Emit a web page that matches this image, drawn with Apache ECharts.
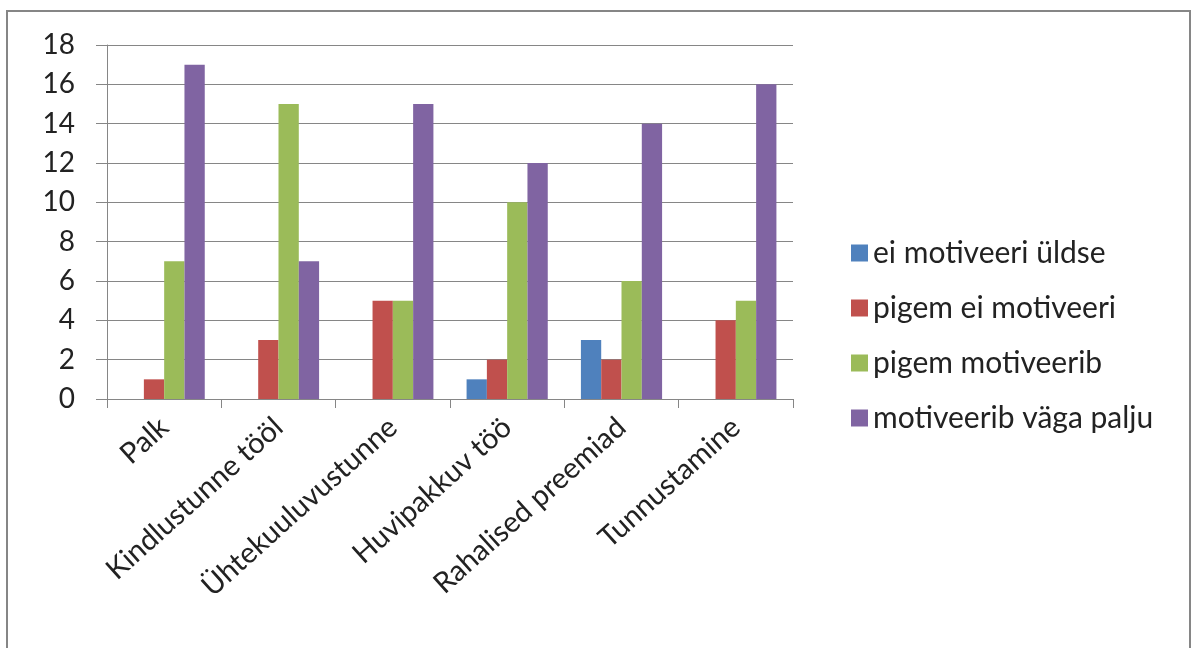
<!DOCTYPE html>
<html><head><meta charset="utf-8">
<script src="https://cdn.jsdelivr.net/npm/echarts@6/dist/echarts.min.js"></script>
<style>html,body{margin:0;padding:0;background:#fff}#c{width:1192px;height:648px}</style>
</head><body><div id="c"></div>
<script>
const categories = ["Palk","Kindlustunne tööl","Ühtekuuluvustunne","Huvipakkuv töö","Rahalised preemiad","Tunnustamine"];
const seriesNames = ["ei motiveeri üldse","pigem ei motiveeri","pigem motiveerib","motiveerib väga palju"];
const eiMotiveeriUldse = [0,0,0,1,3,0];
const pigemEiMotiveeri = [1,3,5,2,2,4];
const pigemMotiveerib = [7,15,5,10,6,5];
const motiveeribVagaPalju = [17,7,15,12,14,16];
const yTicks = {min:0,max:18,interval:2};
const colors = ["#4F81BD","#C0504D","#9BBB59","#8064A2"];
const values = [eiMotiveeriUldse,pigemEiMotiveeri,pigemMotiveerib,motiveeribVagaPalju];
const font = "Lato, 'Open Sans', sans-serif";
const chart = echarts.init(document.getElementById('c'));
chart.setOption({
  animation:false,
  backgroundColor:'#fff',
  graphic:[{type:'rect',shape:{x:7,y:11,width:1183,height:700},style:{fill:'none',stroke:'#868686',lineWidth:2}}],
  grid:{left:107,right:399,top:45,bottom:249,containLabel:false},
  legend:{orient:'vertical',left:846,top:233,itemWidth:17,itemHeight:17,itemGap:25,icon:'rect',
    textStyle:{fontFamily:font,fontSize:30,color:'#222'},data:seriesNames},
  xAxis:{type:'category',data:categories,boundaryGap:true,
    axisLine:{lineStyle:{color:'#868686',width:1}},
    axisTick:{show:true,length:9,alignWithLabel:false,lineStyle:{color:'#868686'}},
    axisLabel:{rotate:42,interval:0,fontFamily:font,fontSize:29,color:'#222',margin:24}},
  yAxis:{type:'value',min:yTicks.min,max:yTicks.max,interval:yTicks.interval,
    axisLine:{show:true,lineStyle:{color:'#868686'}},
    axisTick:{show:true,length:11,lineStyle:{color:'#868686'}},
    splitLine:{lineStyle:{color:'#868686',width:1}},
    axisLabel:{fontFamily:font,fontSize:28,color:'#222',margin:32}},
  series:seriesNames.map((n,i)=>({name:n,type:'bar',data:values[i],barGap:'0%',barCategoryGap:'29%',
    itemStyle:{color:colors[i]}}))
});
</script></body></html>
